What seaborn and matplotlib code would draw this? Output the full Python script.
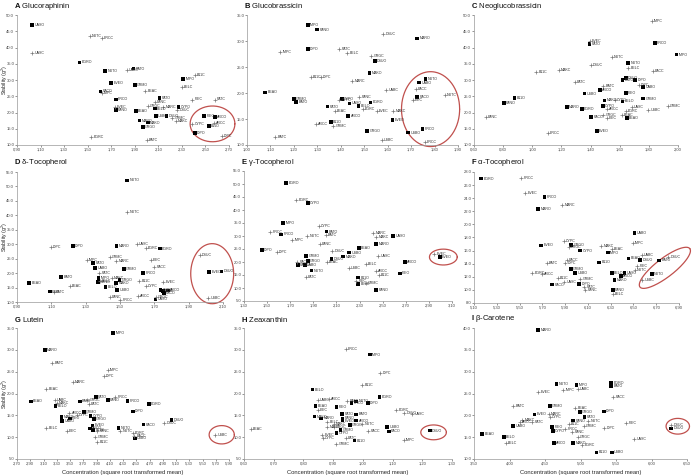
import numpy as np
import pandas as pd
import matplotlib.pyplot as plt
from matplotlib.transforms import offset_copy
import seaborn as sns

# ---- data ----
# code ending in O -> filled square, ending in C -> plus
a_labels = ["UASO", "UASC", "NUTC", "PRCC", "EGRO", "EGRC", "NUTO", "UABC", "BATO", "IMPO",
            "B11C", "EVEO", "GRMO", "BELC", "PACO", "IMPC", "BEAC", "PRCO", "PATO", "PANC",
            "FIEC", "PATC", "EVEC", "PANO", "BEAO", "GRGC", "BELO", "MARC", "CYPO", "DSUC",
            "DSUO", "USBO", "GRMC", "MAKC", "MARO", "MAKO", "GRGO", "BATC", "FIEO", "ARCO",
            "ARCC", "CYPC", "B11O", "DIPO", "DIPC"]
a_x = [1.03, 1.03, 1.52, 1.62, 1.43, 1.53, 1.65, 1.83, 1.89, 2.31,
       2.41, 1.70, 1.90, 2.30, 1.61, 1.62, 1.99, 1.74, 2.11, 2.07,
       2.39, 2.58, 1.73, 1.74, 1.91, 2.01, 2.07, 2.14, 2.27, 2.26,
       2.17, 2.08, 2.22, 2.25, 1.94, 2.01, 1.97, 2.00, 2.49, 2.58,
       2.57, 2.39, 2.53, 2.41, 2.64]
a_y = [46.9, 38.4, 43.5, 43.0, 35.4, 12.4, 32.7, 33.0, 33.5, 30.3,
       31.5, 29.0, 28.4, 27.7, 26.5, 26.0, 26.6, 24.0, 24.4, 23.3,
       24.0, 24.0, 21.8, 20.8, 20.5, 22.0, 21.2, 21.8, 21.6, 20.8,
       18.9, 18.9, 18.4, 17.5, 17.5, 16.9, 15.6, 11.5, 18.9, 18.7,
       16.9, 16.4, 15.8, 13.6, 12.9]

b_labels = ["IMPO", "PANO", "MARO", "DSUC", "DIPO", "IMPC", "PATC", "BELC", "GRGC", "DSUO",
            "B11C", "DIPC", "MAKO", "MARC", "UABC", "BEAO", "GRMO", "BATO", "CYPO", "CYPC",
            "PANC", "EGRO", "PATO", "BEAC", "UASO", "BELO", "EGRC", "EVEC", "MAKC", "ARCO",
            "EVEO", "B11O", "ARCC", "GRMC", "GRGO", "BATC", "USBC", "NUTO", "UABO", "PACC",
            "NUTC", "PACO", "FIEC", "PRCO", "USBO", "PRCC"]
b_x = [1.259, 1.300, 1.726, 1.581, 1.259, 1.142, 1.394, 1.428, 1.531, 1.546,
       1.272, 1.315, 1.522, 1.448, 1.595, 1.078, 1.201, 1.210, 1.404, 1.394,
       1.478, 1.527, 1.343, 1.374, 1.437, 1.475, 1.493, 1.553, 1.624, 1.432,
       1.621, 1.357, 1.295, 1.368, 1.513, 1.120, 1.574, 1.762, 1.734, 1.720,
       1.843, 1.726, 1.706, 1.748, 1.687, 1.758]
b_y = [33.1, 32.2, 30.5, 31.4, 28.5, 27.8, 28.5, 27.6, 27.1, 26.2,
       23.0, 23.0, 23.9, 22.4, 20.6, 20.1, 18.9, 18.3, 18.9, 18.6,
       19.2, 18.2, 17.4, 16.5, 18.0, 17.5, 17.0, 16.5, 16.5, 15.6,
       14.8, 14.4, 14.1, 13.7, 12.7, 11.5, 11.0, 22.7, 22.0, 20.7,
       19.7, 19.2, 18.7, 13.1, 12.4, 10.6]

c_labels = ["IMPC", "PRCO", "EVEC", "PATO", "IMPO", "NUTC", "NUTO", "BELC", "PACC", "B11C",
            "MAKC", "DSUC", "PATC", "BATO", "DSUO", "DIPO", "DIPC", "UABO", "BATC", "ARCO",
            "USBO", "B11O", "PANO", "FIEO", "GRMO", "MARO", "EGRO", "MAKO", "CYPC", "BELO",
            "CYPO", "ARCC", "UASC", "EGRC", "GRMC", "USBC", "GRGC", "FIEC", "PACO", "BEAC",
            "BEAO", "PANC", "PRCC", "EVEO"]
c_x = [1.819, 1.841, 1.393, 1.393, 1.990, 1.545, 1.659, 1.659, 1.826, 1.028,
       1.181, 1.402, 1.290, 1.620, 1.643, 1.707, 1.732, 1.762, 1.488, 1.466,
       1.359, 0.878, 0.805, 1.643, 1.762, 1.238, 1.340, 1.495, 1.568, 1.620,
       1.484, 1.511, 1.682, 1.643, 1.928, 1.796, 1.488, 1.511, 1.404, 1.613,
       1.648, 0.680, 1.106, 1.443]
c_y = [48.2, 41.3, 42.0, 41.1, 37.8, 37.1, 35.2, 33.6, 32.9, 32.6,
       33.2, 34.6, 29.3, 30.1, 30.7, 30.1, 28.4, 27.9, 28.3, 27.0,
       25.8, 24.5, 23.0, 26.1, 24.3, 21.6, 21.1, 23.7, 23.8, 23.4,
       21.9, 21.0, 21.7, 20.6, 21.9, 20.9, 19.2, 18.4, 18.6, 19.2,
       18.4, 18.7, 13.6, 14.3]

d_labels = ["NUTO", "NUTC", "DIPC", "DIPO", "MARO", "UASC", "EGRC", "EGRO", "DSUC", "IMPC",
            "PATO", "GRMC", "MARC", "FIEC", "UABO", "PATC", "GRMO", "PACC", "PRCO", "DSUO",
            "EVEO", "BATO", "BEAO", "IMPO", "BELC", "MAKC", "PANO", "GRGO", "MAKO", "B11C",
            "CYPC", "EVEC", "BEAC", "BELO", "USBO", "FIEO", "BATC", "ARCC", "CYPO", "B11O",
            "ARCO", "PACO", "GRGC", "UASO", "PANC", "PRCC", "USBC"]
d_x = [1.541, 1.541, 1.097, 1.225, 1.479, 1.598, 1.651, 1.732, 1.965, 1.305,
       1.344, 1.439, 1.477, 1.680, 1.355, 1.378, 1.523, 1.699, 1.634, 2.091,
       2.019, 1.158, 0.971, 1.374, 1.382, 1.451, 1.372, 1.497, 1.477, 1.613,
       1.650, 1.751, 1.206, 1.416, 1.483, 1.091, 1.114, 1.604, 1.736, 1.749,
       1.780, 1.755, 1.707, 1.707, 1.439, 1.502, 2.015]
d_y = [52.1, 41.2, 29.0, 29.3, 29.3, 30.2, 28.7, 28.5, 26.2, 24.7,
       23.6, 25.5, 24.2, 24.6, 21.7, 20.2, 21.4, 22.2, 20.1, 20.6,
       20.5, 18.6, 16.5, 18.3, 17.2, 18.4, 16.9, 17.5, 16.6, 17.3,
       15.6, 16.8, 15.4, 15.1, 14.2, 13.6, 13.4, 12.0, 14.2, 13.7,
       14.0, 13.1, 11.7, 10.9, 11.8, 10.6, 11.4]

e_labels = ["EGRO", "EGRC", "CYPO", "IMPO", "CYPC", "PRCC", "PRCO", "NUTC", "BATO", "BATC",
            "IMPC", "PANC", "MARC", "MAKC", "UASO", "MARO", "DIPO", "DIPC", "BEAO", "DSUC",
            "USBO", "UASC", "GRMO", "MAKO", "DSUO", "BEAC", "GRGO", "PACC", "PACO", "UABO",
            "NUTO", "PATC", "USBC", "BELC", "ARCO", "ARCC", "B11C", "FIEO", "B11O", "FIEC",
            "BELO", "GRMC", "PANO", "EVEC", "EVEO"]
e_x = [1.666, 1.752, 1.853, 1.637, 1.948, 1.525, 1.623, 1.848, 2.015, 2.006,
       1.718, 1.957, 2.418, 2.444, 2.591, 2.444, 1.453, 1.582, 2.294, 2.064,
       2.211, 2.461, 1.839, 2.159, 2.058, 2.015, 1.853, 1.761, 1.767, 1.827,
       1.885, 1.833, 2.208, 2.352, 2.692, 2.444, 2.467, 2.649, 2.288, 2.271,
       2.288, 2.352, 2.444, 2.948, 2.995]
e_y = [50.5, 43.8, 42.8, 34.9, 34.0, 31.7, 30.6, 30.0, 31.7, 30.3,
       28.5, 26.9, 31.0, 29.7, 30.1, 26.9, 24.6, 24.0, 25.3, 24.2,
       23.6, 22.4, 22.4, 22.1, 21.2, 19.9, 20.5, 19.9, 18.8, 18.8,
       16.7, 14.4, 17.6, 19.1, 19.9, 16.5, 15.0, 15.6, 14.0, 12.7,
       11.5, 11.8, 9.2, 23.1, 21.8]

f_labels = ["EGRO", "PRCC", "EVEC", "PRCO", "MARC", "MARO", "UABO", "IMPC", "CYPC", "EVEO",
            "GRGO", "GRGC", "CYPO", "MAKC", "BEAC", "IMPO", "BEAO", "UABC", "DSUO", "DSUC",
            "BATO", "PACC", "DIPC", "BATC", "B11O", "FIEC", "NUTC", "GRMO", "USBO", "BELO",
            "EGRC", "ARCC", "UASO", "ARCO", "NUTO", "B11C", "GRMC", "UASC", "USBC", "MAKO",
            "DIPO", "PACO", "PATC", "PANC", "PANO", "BELC"]
f_x = [5.164, 5.514, 5.552, 5.718, 5.873, 5.663, 6.508, 6.494, 5.890, 5.689,
       5.954, 5.931, 6.033, 6.217, 6.310, 6.275, 6.456, 6.572, 6.558, 6.806,
       6.727, 5.916, 5.902, 5.741, 6.199, 6.534, 6.513, 5.951, 5.989, 6.310,
       5.610, 5.698, 6.421, 6.392, 6.660, 5.835, 6.033, 5.893, 6.578, 6.333,
       6.024, 5.785, 6.068, 6.077, 6.319, 6.319]
f_y = [27.0, 27.1, 24.8, 24.2, 23.0, 22.4, 18.7, 17.2, 17.4, 16.8,
       16.9, 16.5, 16.0, 16.7, 16.2, 15.7, 14.8, 15.3, 14.6, 15.0,
       14.5, 14.6, 14.1, 14.1, 14.2, 13.6, 13.0, 13.2, 12.6, 12.6,
       12.6, 12.4, 12.6, 12.1, 12.4, 11.8, 11.6, 11.2, 11.5, 11.5,
       10.9, 10.8, 10.4, 10.0, 10.0, 9.4]

g_labels = ["IMPO", "MARO", "BATC", "IMPC", "DIPC", "MARC", "BEAC", "BEAO", "UABC", "MAKC",
            "BELO", "PATO", "PRCC", "PANO", "PRCO", "EGRO", "DIPO", "DSUO", "DSUC", "PACO",
            "NUTO", "NUTC", "EGRC", "PACC", "USBO", "USBC", "BELC", "FIEC", "BATO", "GRGC",
            "PATC", "ARCC", "MAKO", "UABO", "FIEO", "CYPC", "GRMO", "CYPO", "EVEO", "GRGO",
            "ARCO", "B11O", "PANC", "GRMC", "B11C"]
g_x = [4.15, 3.12, 3.23, 4.07, 4.01, 3.54, 3.14, 2.91, 3.27, 3.30,
       3.28, 3.89, 4.18, 4.07, 4.37, 4.69, 4.45, 5.03, 4.92, 4.61,
       4.23, 4.26, 4.45, 4.47, 4.48, 5.69, 3.14, 3.45, 3.65, 3.76,
       3.78, 3.49, 3.37, 3.38, 3.50, 3.60, 3.71, 3.81, 3.84, 3.86,
       3.80, 3.85, 3.91, 3.88, 3.91]
g_y = [33.9, 30.0, 27.0, 25.3, 24.1, 22.6, 21.1, 18.2, 18.5, 17.9,
       17.2, 19.2, 19.2, 18.5, 18.3, 17.6, 15.9, 14.0, 13.2, 12.9,
       12.1, 11.5, 11.0, 10.2, 9.7, 10.5, 12.0, 11.4, 18.2, 18.4,
       17.5, 15.6, 14.6, 13.7, 14.3, 15.0, 15.7, 14.8, 12.7, 14.1,
       12.0, 11.7, 11.5, 10.0, 9.0]

h_labels = ["PRCC", "IMPO", "DIPC", "B11C", "BELO", "EGRO", "ARCC", "UABC", "NUTO", "BATC",
            "PRCO", "DIPO", "BEAO", "FIEC", "FIEO", "EGRC", "UASC", "DSUC", "PATO", "MAKO",
            "BATO", "ARCO", "PANO", "EVEO", "BELC", "MAKC", "GRGO", "NUTC", "MARC", "MARO",
            "GRGC", "GRMO", "CYPO", "EVEC", "CYPC", "USBO", "PACO", "PACC", "DSUO", "PATC",
            "B11O", "IMPC", "GRMC", "BEAC"]
h_x = [0.942, 1.023, 1.059, 0.998, 0.830, 1.056, 0.886, 0.849, 0.978, 0.947,
       0.962, 1.017, 0.841, 0.849, 0.911, 1.113, 1.166, 1.140, 0.930, 0.837,
       0.978, 0.978, 0.932, 0.932, 0.880, 0.902, 0.956, 0.998, 0.880, 0.860,
       0.902, 0.925, 0.911, 0.863, 0.866, 1.082, 1.087, 1.018, 1.225, 0.942,
       0.972, 1.138, 0.911, 0.622]
h_y = [30.1, 28.9, 24.7, 22.0, 20.9, 19.2, 18.8, 18.4, 18.2, 18.2,
       17.8, 17.9, 17.1, 16.3, 16.9, 16.3, 15.3, 15.6, 15.3, 14.7,
       15.2, 13.8, 14.3, 13.8, 13.4, 13.0, 12.8, 13.0, 12.3, 14.3,
       12.3, 11.7, 11.0, 10.5, 9.9, 12.4, 11.3, 11.5, 11.5, 9.9,
       9.2, 9.3, 8.4, 11.9]

i_labels = ["MARO", "NUTO", "IMPO", "UABC", "IMPC", "EGRO", "BATO", "EVEC", "PACC", "BATC",
            "GRMO", "DIPO", "BEAC", "GRGO", "PATO", "EVEO", "MARC", "CYPC", "MAKC", "ARCC",
            "PATC", "NUTC", "PANO", "UABO", "FIEO", "B11C", "GRMC", "DIPC", "FIEC", "CYPO",
            "PRCC", "PANC", "BEAO", "BELO", "BELC", "GRGC", "MAKO", "ARCO", "EGRC", "UASC",
            "B11O", "USBO", "DSUC", "DSUO"]
i_x = [4.404, 4.662, 4.943, 4.961, 4.755, 5.430, 5.430, 4.404, 5.458, 4.053,
       4.568, 5.327, 4.929, 4.989, 5.055, 4.353, 4.554, 4.568, 4.179, 4.146,
       4.320, 5.107, 4.896, 4.053, 4.601, 4.835, 5.045, 5.336, 5.645, 4.611,
       4.788, 4.882, 3.617, 3.922, 3.945, 4.961, 4.896, 4.624, 5.022, 5.758,
       5.224, 5.444, 6.278, 6.278]
i_y = [39.6, 27.2, 27.0, 26.1, 25.8, 27.5, 26.7, 25.3, 24.3, 22.1,
       22.2, 20.9, 21.6, 20.7, 19.6, 20.2, 20.3, 19.6, 19.0, 18.4,
       18.4, 18.7, 18.8, 17.5, 17.3, 18.0, 17.5, 17.2, 18.2, 16.4,
       16.9, 16.1, 15.7, 15.0, 13.7, 15.0, 13.7, 13.6, 13.2, 14.5,
       11.5, 11.5, 17.8, 17.0]

letters = ["A", "B", "C", "D", "E", "F", "G", "H", "I"]
titles = ["Glucoraphinin", "Glucobrassicin", "Neoglucobrassicin",
          "δ-Tocopherol", "γ-Tocopherol", "α-Tocopherol",
          "Lutein", "Zeaxanthin", "β-Carotene"]

# tick ranges: (start, stop, step)
x_ticks = [(0.90, 2.70, 0.20), (1.00, 1.90, 0.10), (0.60, 2.00, 0.20),
           (0.90, 2.10, 0.20), (1.30, 3.10, 0.20), (5.10, 6.90, 0.20),
           (2.70, 5.90, 0.20), (0.60, 1.30, 0.10), (3.50, 6.50, 0.50)]
y_ticks = [(10, 50, 5), (10, 35, 5), (10, 50, 5),
           (10, 55, 5), (5, 55, 5), (8, 28, 2),
           (5, 35, 5), (5, 35, 5), (10, 40, 5)]

# red circled groups: centre, semi-axis vectors (data units)
ellipses = [((2.56, 16.5), (0.19, 0), (0, 5.5)),
            ((1.783, 16.9), (0.124, 0), (0, 7.2)),
            None,
            ((2.037, 19.8), (0.125, 0), (0, 10.4)),
            ((3.025, 21.9), (0.12, 0), (0, 3.05)),
            ((6.776, 13.37), (0.219, 2.93), (0.0496, -1.13)),
            ((5.79, 10.55), (0.19, 0), (0, 2.1)),
            ((1.238, 11.1), (0.043, 0), (0, 1.7)),
            ((6.37, 17.5), (0.165, 0), (0, 1.8))]

all_labels = [a_labels, b_labels, c_labels, d_labels, e_labels, f_labels, g_labels, h_labels, i_labels]
all_x = [a_x, b_x, c_x, d_x, e_x, f_x, g_x, h_x, i_x]
all_y = [a_y, b_y, c_y, d_y, e_y, f_y, g_y, h_y, i_y]

sns.set_style("ticks")
plt.rcParams['font.family'] = ['Liberation Sans', 'DejaVu Sans']
plt.rcParams['mathtext.fontset'] = 'custom'
plt.rcParams['mathtext.rm'] = 'Liberation Sans'
plt.rcParams['mathtext.bf'] = 'Liberation Sans:bold'

W, H = 692, 476
# axes boxes in pixels: left, right, top, bottom
boxes = [(17, 229, 15, 145), (247, 458, 15, 145), (474, 678, 15, 145),
         (17, 223, 172, 302), (244, 452, 171, 301), (474, 679, 172, 303),
         (17, 229, 328, 459), (244, 452, 328, 459), (474, 687, 328, 459)]

fig = plt.figure(figsize=(W / 100, H / 100), dpi=100)


def draw_ellipse(ax, spec):
    (cx, cy), v1, v2 = spec
    t = np.linspace(0, 2 * np.pi, 200)
    ex = cx + v1[0] * np.cos(t) + v2[0] * np.sin(t)
    ey = cy + v1[1] * np.cos(t) + v2[1] * np.sin(t)
    ax.plot(ex, ey, color='#c0504d', lw=0.9, clip_on=False)


for k in range(9):
    l, r, t, b = boxes[k]
    ax = fig.add_axes([l / W, 1 - b / H, (r - l) / W, (b - t) / H])
    df = pd.DataFrame({'label': all_labels[k], 'x': all_x[k], 'y': all_y[k]})
    org = df[df['label'].str.endswith('O')]
    con = df[df['label'].str.endswith('C')]
    sns.scatterplot(data=org, x='x', y='y', marker='s', color='black', s=7,
                    edgecolor='none', ax=ax, clip_on=False, zorder=3)
    sns.scatterplot(data=con, x='x', y='y', marker='+', color='#777777', s=9,
                    linewidth=0.5, ax=ax, clip_on=False, zorder=3)
    tr = offset_copy(ax.transData, fig=fig, x=1.6, y=0, units='points')
    for _, row in df.iterrows():
        ax.text(row['x'], row['y'], row['label'], transform=tr, fontsize=2.6,
                color='#333333', va='center', ha='left', clip_on=False)

    x0, x1, xs = x_ticks[k]
    xt = np.round(np.arange(x0, x1 + xs / 2, xs), 2)
    y0, y1, ys = y_ticks[k]
    yt = np.arange(y0, y1 + ys / 2, ys)
    ax.set_xlim(x0, x1)
    ax.set_ylim(y0, y1)
    ax.set_xticks(xt)
    ax.set_xticklabels([f"{v:.2f}".replace('.', ',') for v in xt])
    ax.set_yticks(yt)
    ax.set_yticklabels([str(v) for v in yt])
    ax.tick_params(labelsize=3, length=1.2, width=0.4, pad=0.8, colors='#444444')
    for side in ['top', 'right']:
        ax.spines[side].set_visible(False)
    for side in ['left', 'bottom']:
        ax.spines[side].set_linewidth(0.5)
        ax.spines[side].set_color('#999999')

    ax.set_xlabel('')
    ax.set_ylabel('')
    if k % 3 == 0:
        ax.set_ylabel('Stability (g$^2$)', fontsize=3.8)
        ax.yaxis.set_label_coords(-7.0 / (r - l), 0.5)
    if k >= 6:
        ax.set_xlabel('Concentration (square root transformed mean)', fontsize=4.2, labelpad=3)

    if ellipses[k] is not None:
        draw_ellipse(ax, ellipses[k])

    fig.text((l - 3) / W, 1 - (t - 9) / H, r"$\mathbf{" + letters[k] + "}$ " + titles[k],
             fontsize=5.5, va='center', ha='left', color='#111111')

fig.savefig('out.png', dpi=100)
